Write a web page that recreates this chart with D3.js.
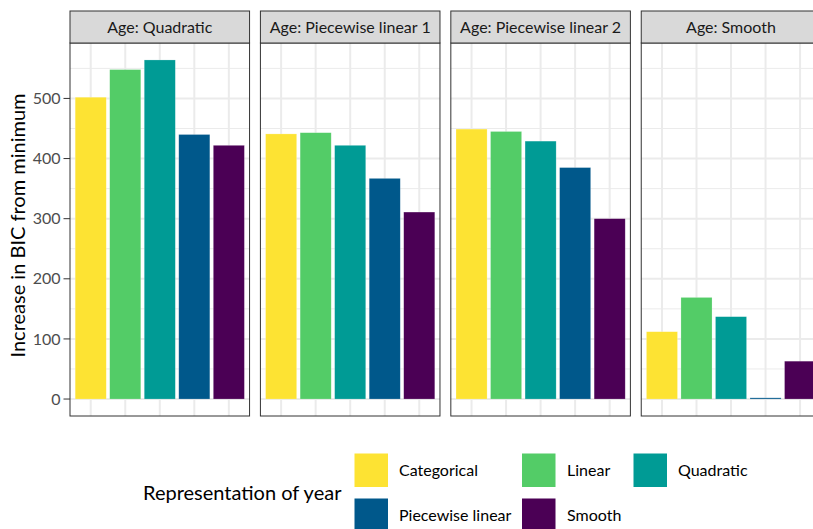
<!DOCTYPE html>
<html lang="en">
  <head>
    <meta charset="UTF-8" />
    <title>BIC by representation</title>
    <script src="https://d3js.org/d3.v7.min.js"></script>
    <style>
      body { margin: 0; background: #fff; }
      svg text { font-family: Lato, 'Open Sans', sans-serif; }
    </style>
  </head>

  <body>
    <script>
      // facets and series
      let facets = ['Age: Quadratic', 'Age: Piecewise linear 1', 'Age: Piecewise linear 2', 'Age: Smooth']
      let series = ['Categorical', 'Linear', 'Quadratic', 'Piecewise linear', 'Smooth']
      let colors = ['#FDE333', '#53CC67', '#009B95', '#00588B', '#4B0055']

      // increase in BIC, one array per facet, in series order
      let ageQuadratic = [502, 548, 564, 440, 422]
      let agePiecewise1 = [441, 443, 422, 367, 311]
      let agePiecewise2 = [449, 445, 429, 385, 300]
      let ageSmooth = [112, 169, 137, 2, 63]
      let values = [ageQuadratic, agePiecewise1, agePiecewise2, ageSmooth]

      let yTicks = [0, 100, 200, 300, 400, 500]
      let yMinor = [50, 150, 250, 350, 450, 550]

      let width = 813
      let height = 529
      let panelTop = 43
      let panelBottom = 416
      let stripH = 32

      let svg = d3.select('body').append('svg')
        .attr('width', width)
        .attr('height', height)

      let facetScale = d3.scaleBand()
        .domain(facets)
        .range([70, 820.8])
        .paddingInner(0.057)

      let pw = facetScale.bandwidth()

      let maxV = d3.max(values.flat())
      let pad = maxV * 0.05
      let y = d3.scaleLinear()
        .domain([-pad, maxV + pad])
        .range([panelBottom, panelTop])

      let x = d3.scaleBand()
        .domain(series)
        .range([0, pw])
        .paddingInner(0.1)
        .paddingOuter(0.15)

      facets.forEach((f, fi) => {
        let g = svg.append('g')
          .attr('transform', `translate(${facetScale(f)},0)`)

        // grid
        g.selectAll('line.minor').data(yMinor).enter().append('line')
          .attr('x1', 0).attr('x2', pw)
          .attr('y1', d => y(d)).attr('y2', d => y(d))
          .attr('stroke', '#EBEBEB').attr('stroke-width', 1)
        g.selectAll('line.major').data(yTicks).enter().append('line')
          .attr('x1', 0).attr('x2', pw)
          .attr('y1', d => y(d)).attr('y2', d => y(d))
          .attr('stroke', '#EBEBEB').attr('stroke-width', 2)
        g.selectAll('line.vgrid').data(series).enter().append('line')
          .attr('x1', d => x(d) + x.bandwidth() / 2)
          .attr('x2', d => x(d) + x.bandwidth() / 2)
          .attr('y1', panelTop).attr('y2', panelBottom)
          .attr('stroke', '#EBEBEB').attr('stroke-width', 2)

        // bars
        g.selectAll('rect.bar').data(values[fi]).enter().append('rect')
          .attr('x', (d, i) => x(series[i]))
          .attr('width', x.bandwidth())
          .attr('y', d => y(d))
          .attr('height', d => y(0) - y(d))
          .attr('fill', (d, i) => colors[i])
          .attr('stroke', 'rgba(255,255,255,0.35)')
          .attr('stroke-width', 0.6)

        // panel border
        g.append('rect')
          .attr('x', 0).attr('y', panelTop)
          .attr('width', pw).attr('height', panelBottom - panelTop)
          .attr('fill', 'none').attr('stroke', '#333').attr('stroke-width', 1)

        // strip
        g.append('rect')
          .attr('x', 0).attr('y', panelTop - stripH)
          .attr('width', pw).attr('height', stripH)
          .attr('fill', '#D9D9D9').attr('stroke', '#333').attr('stroke-width', 1)
        g.append('text')
          .attr('x', pw / 2).attr('y', panelTop - stripH / 2)
          .attr('text-anchor', 'middle').attr('dy', '0.35em')
          .attr('font-size', 16).attr('fill', '#1A1A1A')
          .text(f)
      })

      // y axis
      let yAxis = svg.append('g')
      yAxis.selectAll('line').data(yTicks).enter().append('line')
        .attr('x1', 63.5).attr('x2', 70)
        .attr('y1', d => y(d)).attr('y2', d => y(d))
        .attr('stroke', '#333').attr('stroke-width', 1)
      yAxis.selectAll('text').data(yTicks).enter().append('text')
        .attr('x', 60.5).attr('y', d => y(d))
        .attr('dy', '0.35em').attr('text-anchor', 'end')
        .attr('font-size', 16).attr('fill', '#4D4D4D')
        .text(d => d)

      svg.append('text')
        .attr('transform', `translate(25,${(panelTop + panelBottom) / 2 - 4}) rotate(-90)`)
        .attr('text-anchor', 'middle')
        .attr('font-size', 20).attr('fill', '#000')
        .text('Increase in BIC from minimum')

      // legend
      let legendCols = [354.5, 522, 633.5]
      let legendLabelX = [399, 567, 678]
      let legendRows = [453.5, 498.5]
      let key = 33.5

      svg.append('text')
        .attr('x', 143).attr('y', 493)
        .attr('dy', '0.35em')
        .attr('font-size', 20).attr('fill', '#000')
        .text('Representation of year')

      let items = svg.selectAll('g.key').data(series).enter().append('g')
        .attr('transform', (d, i) => `translate(${legendCols[i % 3]},${legendRows[Math.floor(i / 3)]})`)
      items.append('rect')
        .attr('width', key).attr('height', key)
        .attr('fill', (d, i) => colors[i])
      items.append('text')
        .attr('x', (d, i) => legendLabelX[i % 3] - legendCols[i % 3])
        .attr('y', key / 2)
        .attr('dy', '0.35em')
        .attr('font-size', 16).attr('fill', '#000')
        .text(d => d)
    </script>
  </body>
</html>
